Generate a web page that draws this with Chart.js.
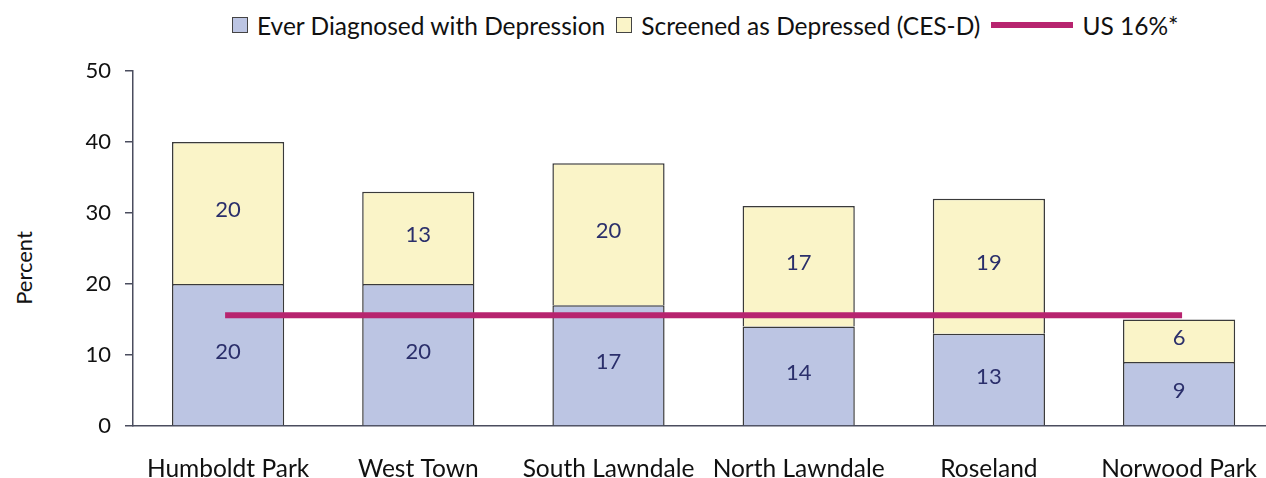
<!DOCTYPE html>
<html>
<head>
<meta charset="utf-8">
<script src="https://cdn.jsdelivr.net/npm/chart.js@4/dist/chart.umd.min.js"></script>
<style>
body { margin: 0; width: 1266px; height: 478px; overflow: hidden; position: relative; background: #fff; font-family: Lato, sans-serif; }
#legend { position: absolute; left: 232px; top: 10px; height: 30px; display: flex; align-items: center; font-size: 24.5px; color: #111; white-space: nowrap; }
#legend .box { width: 14px; height: 14px; border: 1.5px solid #444; margin-right: 9px; }
#legend .ln { width: 82px; height: 6px; margin-right: 9px; }
#legend .txt { margin-right: 11px; }
#ytitle { position: absolute; left: 23px; top: 268px; transform: translate(-50%, -50%) rotate(-90deg); font-size: 22px; color: #111; white-space: nowrap; }
#chart { position: absolute; left: 0; top: 0; }
</style>
</head>
<body>
<div id="legend"></div>
<div id="ytitle">Percent</div>
<canvas id="chart" width="1285" height="478"></canvas>
<script>
let categories = ['Humboldt Park', 'West Town', 'South Lawndale', 'North Lawndale', 'Roseland', 'Norwood Park'];
let everDiagnosed = [20, 20, 17, 14, 13, 9];
let screenedDepressed = [20, 13, 20, 17, 19, 6];
let usRate = [15.6, 15.6, 15.6, 15.6, 15.6, 15.6];
let yTicks = [0, 10, 20, 30, 40, 50];

let blue = '#bcc5e3';
let yellow = '#faf4c8';
let magenta = '#b7246f';
let axisColor = '#4a4d5e';
let valueColor = '#2b2f6b';

Chart.defaults.font.family = 'Lato';
Chart.defaults.color = '#111';

// values written in the middle of each stacked segment
let barValues = {
    id: 'barValues',
    afterDatasetsDraw(chart) {
        let ctx = chart.ctx;
        ctx.save();
        ctx.font = '22px Lato';
        ctx.fillStyle = valueColor;
        ctx.textAlign = 'center';
        ctx.textBaseline = 'middle';
        chart.data.datasets.forEach((ds, i) => {
            if (ds.type == 'line') return;
            let meta = chart.getDatasetMeta(i);
            meta.data.forEach((bar, j) => {
                let p = bar.getProps(['x', 'y', 'base'], true);
                ctx.fillText(ds.data[j], p.x, (p.y + p.base) / 2 - 3);
            });
        });
        ctx.restore();
    }
};

let datasets = [
    {
        type: 'line',
        label: 'US 16%*',
        data: usRate,
        borderColor: magenta,
        borderWidth: 6,
        borderCapStyle: 'square',
        pointRadius: 0,
        stack: 'us',
        order: 0
    },
    {
        type: 'bar',
        label: 'Ever Diagnosed with Depression',
        data: everDiagnosed,
        backgroundColor: blue,
        borderColor: '#3a3a3a',
        borderWidth: {top: 1.5, left: 1.5, right: 1.5, bottom: 0},
        borderSkipped: false,
        stack: 's',
        order: 1
    },
    {
        type: 'bar',
        label: 'Screened as Depressed (CES-D)',
        data: screenedDepressed,
        backgroundColor: yellow,
        borderColor: '#3a3a3a',
        borderWidth: {top: 1.5, left: 1.5, right: 1.5, bottom: 0},
        borderSkipped: false,
        stack: 's',
        order: 1
    }
];

// html legend (the line item needs a long marker)
let legend = document.getElementById('legend');
[datasets[1], datasets[2], datasets[0]].forEach(ds => {
    let mark = document.createElement('div');
    if (ds.type == 'line') {
        mark.className = 'ln';
        mark.style.background = ds.borderColor;
    } else {
        mark.className = 'box';
        mark.style.background = ds.backgroundColor;
    }
    let txt = document.createElement('span');
    txt.className = 'txt';
    txt.textContent = ds.label;
    legend.appendChild(mark);
    legend.appendChild(txt);
});

new Chart(document.getElementById('chart'), {
    data: {
        labels: categories,
        datasets: datasets
    },
    options: {
        responsive: false,
        animation: false,
        categoryPercentage: 1,
        barPercentage: 0.59,
        layout: {
            padding: {top: 71, left: 0, right: 0, bottom: 0}
        },
        plugins: {
            legend: {display: false},
            tooltip: {enabled: false}
        },
        scales: {
            x: {
                stacked: true,
                afterFit: scale => {
                    scale.height = 52;
                },
                grid: {display: false, drawTicks: false},
                border: {display: true, color: axisColor, width: 1.5},
                ticks: {font: {size: 24.5}, color: '#111', padding: 28, maxRotation: 0}
            },
            y: {
                stacked: true,
                min: 0,
                max: 50,
                afterBuildTicks: scale => {
                    scale.ticks = yTicks.map(v => ({value: v}));
                },
                afterFit: scale => {
                    scale.width = 133;
                },
                grid: {drawOnChartArea: false, drawTicks: true, tickLength: 8, color: axisColor, lineWidth: 1.5},
                border: {display: true, color: axisColor, width: 1.5},
                ticks: {font: {size: 22}, color: '#111', padding: 14}
            }
        }
    },
    plugins: [barValues]
});
</script>
</body>
</html>
